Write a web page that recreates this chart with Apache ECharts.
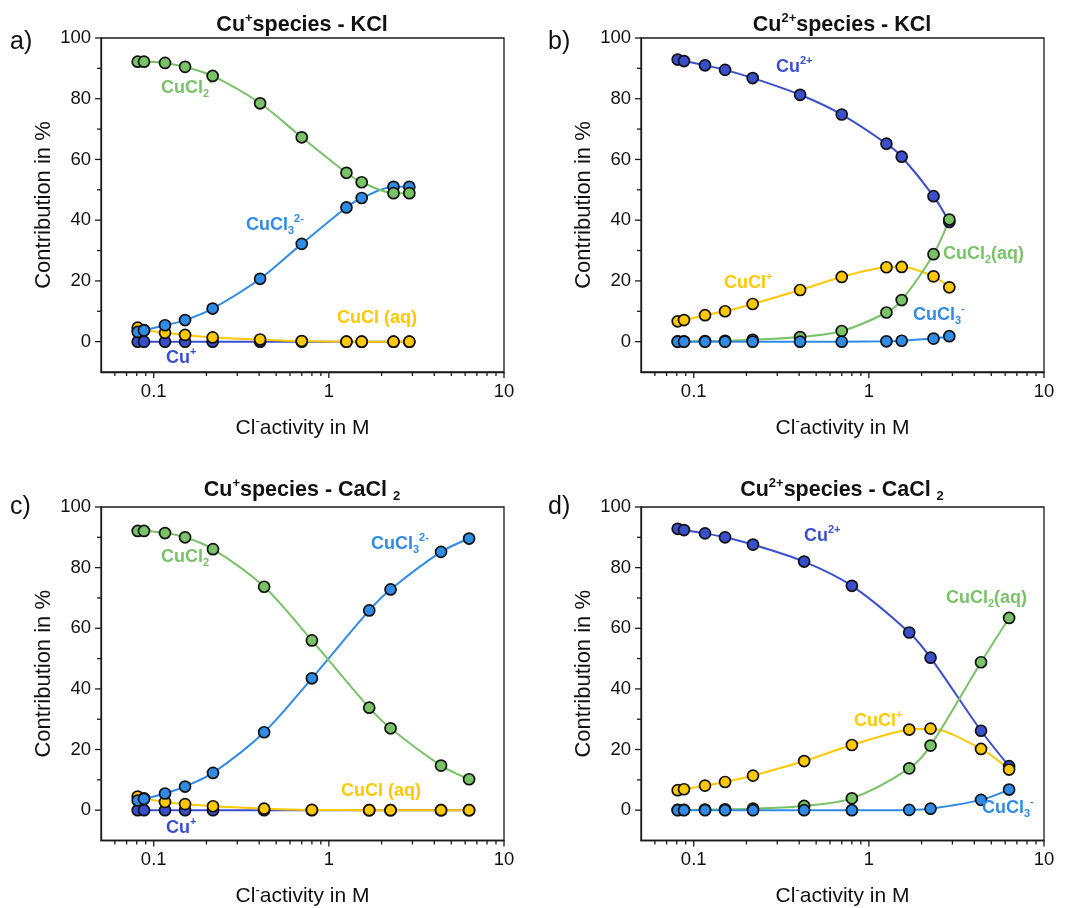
<!DOCTYPE html>
<html>
<head>
<meta charset="utf-8">
<script src="https://cdn.jsdelivr.net/npm/echarts@6/dist/echarts.min.js"></script>
<style>html,body{margin:0;padding:0;background:#fff}#c{width:1070px;height:908px}</style>
</head>
<body>
<div id="c"></div>
<script>
// ---------- data ----------
const xKCl   = [0.081, 0.088, 0.116, 0.151, 0.217, 0.405, 0.70, 1.26, 1.54, 2.34, 2.88];
const xCaCl2 = [0.081, 0.088, 0.116, 0.151, 0.218, 0.427, 0.80, 1.70, 2.25, 4.37, 6.32];

// a) Cu+ species - KCl
const aCuPlus = [0, 0, 0, 0, 0, 0, 0, 0, 0, 0, 0];
const aCuCl   = [4.6, 3.8, 2.9, 2.2, 1.4, 0.7, 0.2, 0, 0, 0, 0];
const aCuCl3  = [3.2, 3.7, 5.4, 7.1, 10.9, 20.7, 32.2, 44.2, 47.3, 51.0, 51.0];
const aCuCl2  = [92.2, 92.2, 91.8, 90.5, 87.5, 78.5, 67.3, 55.6, 52.5, 48.9, 48.9];

// b) Cu2+ species - KCl
const bCu2      = [92.9, 92.4, 91.0, 89.5, 86.8, 81.3, 74.8, 65.2, 60.9, 47.9, 39.4];
const bCuClPlus = [6.7, 7.1, 8.7, 10.0, 12.4, 17.0, 21.3, 24.5, 24.6, 21.5, 17.9];
const bCuCl2    = [0.1, 0.1, 0.2, 0.3, 0.6, 1.5, 3.5, 9.6, 13.7, 28.8, 40.2];
const bCuCl3    = [0, 0, 0, 0, 0, 0, 0, 0.1, 0.3, 1.0, 1.8];

// c) Cu+ species - CaCl2
const cCuPlus = [0, 0, 0, 0, 0, 0, 0, 0, 0, 0, 0];
const cCuCl   = [4.5, 3.9, 2.7, 2.0, 1.3, 0.5, 0.1, 0, 0, 0, 0];
const cCuCl3  = [3.2, 3.7, 5.5, 7.8, 12.3, 25.7, 43.5, 65.9, 72.8, 85.2, 89.6];
const cCuCl2  = [92.1, 92.1, 91.4, 90.0, 86.1, 73.7, 56.0, 33.8, 27.0, 14.7, 10.2];

// d) Cu2+ species - CaCl2
const dCu2      = [92.8, 92.4, 91.3, 90.0, 87.6, 82.0, 74.0, 58.6, 50.3, 26.2, 14.5];
const dCuClPlus = [6.6, 6.9, 8.1, 9.3, 11.4, 16.2, 21.5, 26.6, 26.9, 20.2, 13.4];
const dCuCl2    = [0.1, 0.1, 0.2, 0.3, 0.5, 1.4, 3.9, 13.8, 21.3, 48.8, 63.4];
const dCuCl3    = [0, 0, 0, 0, 0, 0, 0, 0.1, 0.5, 3.4, 6.8];

// axes / ticks
const X_MIN = 0.05, X_MAX = 10, Y_MIN = -10, Y_MAX = 100;
const xMajorTicks = [0.1, 1, 10];
const xMinorTicks = [0.06, 0.07, 0.08, 0.09, 0.2, 0.3, 0.4, 0.5, 0.6, 0.7, 0.8, 0.9, 2, 3, 4, 5, 6, 7, 8, 9];
const yMajorTicks = [0, 20, 40, 60, 80, 100];
const yMinorTicks = [10, 30, 50, 70, 90];

// ---------- style ----------
const FONT = '"Liberation Sans", Arial, Helvetica, sans-serif';
const C_DARK = '#3a4fcc', C_BLUE = '#2f8be6', C_GREEN = '#79c267', C_YEL = '#ffc800';
const AXC = '#1a1a1a';

const grids = [
  {left: 101, top: 38, width: 403, height: 334},
  {left: 641, top: 38, width: 403, height: 334},
  {left: 101, top: 507, width: 403, height: 334},
  {left: 641, top: 507, width: 403, height: 334}
];

const nameRich = {
  n: {fontFamily: FONT, fontSize: 21, color: '#111', lineHeight: 26},
  ns: {fontFamily: FONT, fontSize: 13, color: '#111', verticalAlign: 'top', lineHeight: 13}
};

const xAxes = grids.map((g, i) => ({
  type: 'log', logBase: 10, gridIndex: i, min: X_MIN, max: X_MAX,
  axisLine: {show: true, onZero: false, lineStyle: {color: AXC, width: 1.3}},
  axisTick: {show: false},
  splitLine: {show: false},
  minorTick: {show: false},
  axisLabel: {
    fontFamily: FONT, fontSize: 18.5, color: '#111', margin: 10,
    showMinLabel: false,
    formatter: v => { const l = Math.log10(v); return Math.abs(l - Math.round(l)) < 1e-6 ? String(v) : ''; }
  },
  name: '{n|Cl}{ns|-}{n|activity in M}',
  nameLocation: 'middle', nameGap: 43,
  nameTextStyle: {rich: nameRich}
}));

const yAxes = grids.map((g, i) => ({
  type: 'value', gridIndex: i, min: Y_MIN, max: Y_MAX, interval: 10,
  axisLine: {show: true, onZero: false, lineStyle: {color: AXC, width: 1.3}},
  axisTick: {show: false},
  splitLine: {show: false},
  axisLabel: {
    fontFamily: FONT, fontSize: 18.5, color: '#111', margin: 10,
    formatter: v => (v >= 0 && v % 20 === 0) ? String(v) : ''
  },
  name: 'Contribution in %',
  nameLocation: 'middle', nameGap: 46,
  nameTextStyle: {fontFamily: FONT, fontSize: 22, color: '#111'}
}));

function lineSeries(gi, xs, ys, color) {
  return {
    type: 'line', xAxisIndex: gi, yAxisIndex: gi,
    data: xs.map((x, k) => [x, ys[k]]),
    smooth: 0.3,
    symbol: 'circle', symbolSize: 11,
    lineStyle: {color: color, width: 2},
    itemStyle: {color: color, borderColor: '#111', borderWidth: 1.7},
    z: 3, animation: false
  };
}

function tickSeries(gi) {
  const data = [];
  xMajorTicks.forEach(v => data.push([v, Y_MIN, 0]));
  xMinorTicks.forEach(v => data.push([v, Y_MIN, 1]));
  yMajorTicks.forEach(v => data.push([X_MIN, v, 2]));
  yMinorTicks.forEach(v => data.push([X_MIN, v, 3]));
  return {
    type: 'custom', xAxisIndex: gi, yAxisIndex: gi, clip: false, silent: true, z: 5,
    data: data,
    renderItem: function (params, api) {
      const kind = api.value(2);
      const p = api.coord([api.value(0), api.value(1)]);
      let shape;
      if (kind < 2) {
        const len = kind === 0 ? 6 : 4;
        shape = {x1: p[0], y1: p[1], x2: p[0], y2: p[1] + len};
      } else {
        const len = kind === 2 ? 6 : 4;
        shape = {x1: p[0], y1: p[1], x2: p[0] - len, y2: p[1]};
      }
      return {type: 'line', shape: shape, style: {stroke: AXC, lineWidth: 1.3}};
    }
  };
}

const series = [
  // a
  lineSeries(0, xKCl, aCuPlus, C_DARK),
  lineSeries(0, xKCl, aCuCl, C_YEL),
  lineSeries(0, xKCl, aCuCl3, C_BLUE),
  lineSeries(0, xKCl, aCuCl2, C_GREEN),
  // b
  lineSeries(1, xKCl, bCu2, C_DARK),
  lineSeries(1, xKCl, bCuClPlus, C_YEL),
  lineSeries(1, xKCl, bCuCl2, C_GREEN),
  lineSeries(1, xKCl, bCuCl3, C_BLUE),
  // c
  lineSeries(2, xCaCl2, cCuPlus, C_DARK),
  lineSeries(2, xCaCl2, cCuCl, C_YEL),
  lineSeries(2, xCaCl2, cCuCl3, C_BLUE),
  lineSeries(2, xCaCl2, cCuCl2, C_GREEN),
  // d
  lineSeries(3, xCaCl2, dCu2, C_DARK),
  lineSeries(3, xCaCl2, dCuClPlus, C_YEL),
  lineSeries(3, xCaCl2, dCuCl2, C_GREEN),
  lineSeries(3, xCaCl2, dCuCl3, C_BLUE),
  tickSeries(0), tickSeries(1), tickSeries(2), tickSeries(3)
];

// ---------- text ----------
function richFor(color, size) {
  const s = Math.round(size * 0.62);
  return {
    m: {fontFamily: FONT, fontSize: size, fontWeight: 'bold', fill: color, lineHeight: size + 5},
    sp: {fontFamily: FONT, fontSize: s, fontWeight: 'bold', fill: color, verticalAlign: 'top', lineHeight: s},
    sb: {fontFamily: FONT, fontSize: s, fontWeight: 'bold', fill: color, verticalAlign: 'bottom', lineHeight: s}
  };
}
function label(x, y, text, color, size, align) {
  return {
    type: 'text', x: x, y: y, z: 10,
    style: {text: text, rich: richFor(color, size || 18), fill: color, align: align || 'left', verticalAlign: 'middle'}
  };
}

const graphics = [
  // panel letters
  {type: 'text', x: 10, y: 42, style: {text: 'a)', font: '25px ' + FONT, fill: '#111', verticalAlign: 'middle'}},
  {type: 'text', x: 548, y: 42, style: {text: 'b)', font: '25px ' + FONT, fill: '#111', verticalAlign: 'middle'}},
  {type: 'text', x: 10, y: 507, style: {text: 'c)', font: '25px ' + FONT, fill: '#111', verticalAlign: 'middle'}},
  {type: 'text', x: 548, y: 507, style: {text: 'd)', font: '25px ' + FONT, fill: '#111', verticalAlign: 'middle'}},
  // titles
  label(302, 25, '{m|Cu}{sp|+}{m|species - KCl}', '#111', 21.5, 'center'),
  label(842, 25, '{m|Cu}{sp|2+}{m|species - KCl}', '#111', 21.5, 'center'),
  label(302, 490, '{m|Cu}{sp|+}{m|species - CaCl }{sb|2}', '#111', 21.5, 'center'),
  label(842, 490, '{m|Cu}{sp|2+}{m|species - CaCl }{sb|2}', '#111', 21.5, 'center'),
  // panel a
  label(161, 88, '{m|CuCl}{sb|2}{sp|-}', C_GREEN),
  label(246, 225, '{m|CuCl}{sb|3}{sp|2-}', C_BLUE),
  label(337, 318, '{m|CuCl (aq)}', C_YEL),
  label(166, 358, '{m|Cu}{sp|+}', C_DARK),
  // panel b
  label(776, 67, '{m|Cu}{sp|2+}', C_DARK),
  label(943, 254, '{m|CuCl}{sb|2}{m|(aq)}', C_GREEN),
  label(724, 283, '{m|CuCl}{sp|+}', C_YEL),
  label(913, 315, '{m|CuCl}{sb|3}{sp|-}', C_BLUE),
  // panel c
  label(161, 557, '{m|CuCl}{sb|2}{sp|-}', C_GREEN),
  label(371, 544, '{m|CuCl}{sb|3}{sp|2-}', C_BLUE),
  label(341, 791, '{m|CuCl (aq)}', C_YEL),
  label(166, 828, '{m|Cu}{sp|+}', C_DARK),
  // panel d
  label(804, 536, '{m|Cu}{sp|2+}', C_DARK),
  label(946, 598, '{m|CuCl}{sb|2}{m|(aq)}', C_GREEN),
  label(854, 721, '{m|CuCl}{sp|+}', C_YEL),
  label(982, 808, '{m|CuCl}{sb|3}{sp|-}', C_BLUE)
];

const chart = echarts.init(document.getElementById('c'), null, {renderer: 'canvas'});
chart.setOption({
  animation: false,
  backgroundColor: '#ffffff',
  grid: grids.map(g => Object.assign({show: true, borderColor: AXC, borderWidth: 1.3, backgroundColor: 'transparent', containLabel: false}, g)),
  xAxis: xAxes,
  yAxis: yAxes,
  series: series,
  graphic: graphics
});
</script>
</body>
</html>
